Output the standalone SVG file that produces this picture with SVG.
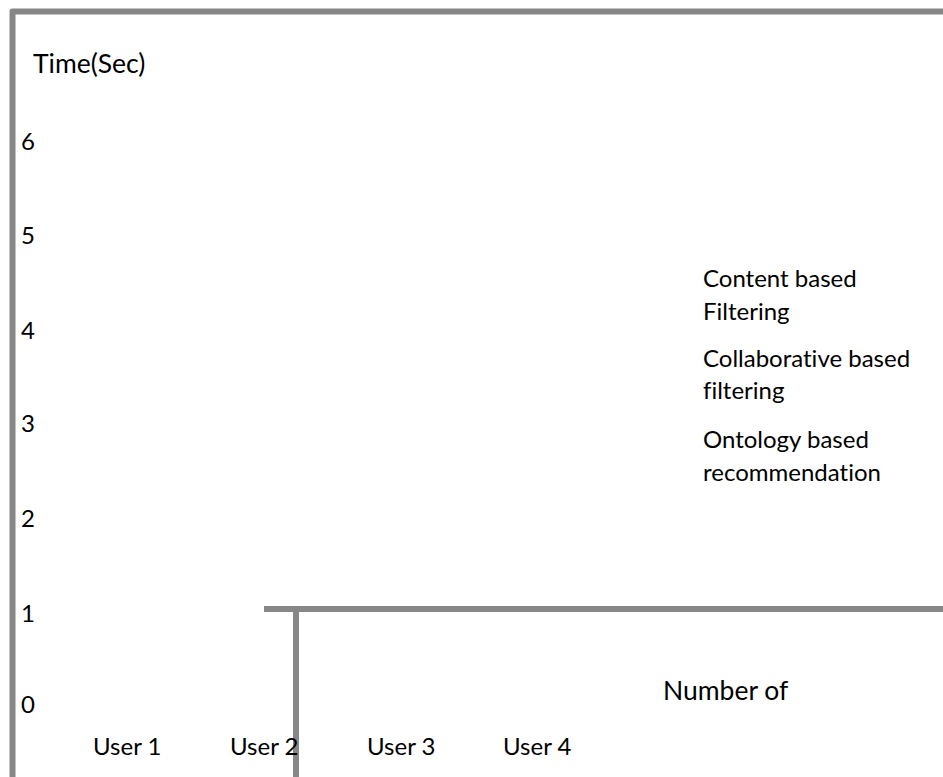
<svg xmlns="http://www.w3.org/2000/svg" width="943" height="777" viewBox="0 0 943 777">
  <style>
    .axis { fill: none; stroke: #878787; stroke-width: 6; stroke-linejoin: round; }
    .lbl { font-family: Lato, "Open Sans", "Liberation Sans", sans-serif; font-size: 24px; fill: #000; font-variant-ligatures: none; }
    .big { font-size: 26.5px; }
  </style>
  <rect width="943" height="777" fill="#fff"/>
  <g id="frame">
    <path class="axis" d="M12.5 777 V11.5 H943"/>
    <path class="axis" d="M264 609 H943"/>
    <path class="axis" d="M296 609 V777"/>
  </g>
  <g id="y-axis">
    <text class="lbl big" x="33" y="73">Time(Sec)</text>
    <text class="lbl" x="21" y="150">6</text>
    <text class="lbl" x="21" y="244">5</text>
    <text class="lbl" x="21" y="339">4</text>
    <text class="lbl" x="21" y="432">3</text>
    <text class="lbl" x="21" y="527">2</text>
    <text class="lbl" x="21" y="622">1</text>
    <text class="lbl" x="21" y="713">0</text>
  </g>
  <g id="x-axis">
    <text class="lbl" x="93" y="755">User 1</text>
    <text class="lbl" x="230" y="755">User 2</text>
    <text class="lbl" x="367" y="755">User 3</text>
    <text class="lbl" x="503" y="755">User 4</text>
    <text class="lbl big" x="663" y="700">Number of</text>
  </g>
  <g id="legend">
    <text class="lbl" x="703" y="287">Content based</text>
    <text class="lbl" x="703" y="320">Filtering</text>
    <text class="lbl" x="703" y="367">Collaborative based</text>
    <text class="lbl" x="703" y="399">filtering</text>
    <text class="lbl" x="703" y="448">Ontology based</text>
    <text class="lbl" x="703" y="481">recommendation</text>
  </g>
</svg>
